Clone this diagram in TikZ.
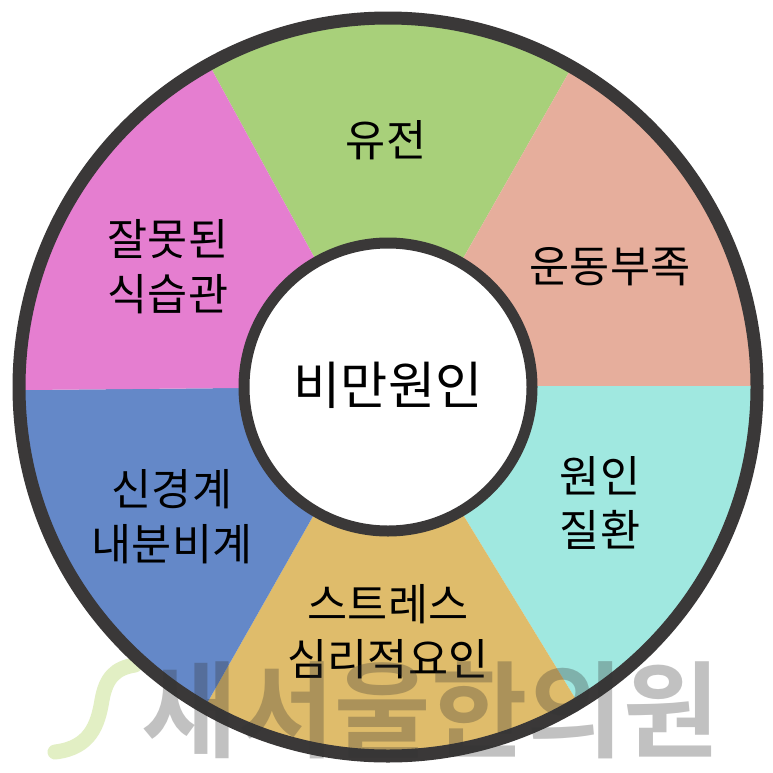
\documentclass[tikz,border=0pt]{standalone}
\usepackage{fontspec}
\setmainfont{Noto Sans CJK KR}
\newfontfamily\markfont{Noto Sans CJK KR Bold}
\usetikzlibrary{calc}
\definecolor{ringgray}{HTML}{3A3838}
\definecolor{segpink}{HTML}{E57ED0}
\definecolor{seggreen}{HTML}{A8D07A}
\definecolor{segsalmon}{HTML}{E6AE9C}
\definecolor{segcyan}{HTML}{A0E8E0}
\definecolor{segorange}{HTML}{DFBC6B}
\definecolor{segblue}{HTML}{6488C8}
\definecolor{markgreen}{HTML}{E2EFC4}
\tikzset{
    seglabel/.style={align=center, font=\fontsize{12.4pt}{15.6pt}\selectfont, text=black},
    hublabel/.style={font=\fontsize{14.6pt}{16pt}\selectfont, text=black},
    marklabel/.style={font=\fontsize{29.8pt}{30pt}\markfont, text=black!80, text opacity=0.3}
}
\begin{document}
\begin{tikzpicture}[x=0.1mm, y=-0.1mm]
    \useasboundingbox (0,0) rectangle (773,773);
    \fill[white] (0,0) rectangle (773,773);

    % Segment corners
    \coordinate (hub) at (388,387);
    \coordinate (in1) at (313,255);  \coordinate (out1) at (212,70);
    \coordinate (in2) at (465,255);  \coordinate (out2) at (568,74);
    \coordinate (in3) at (537,386);  \coordinate (out3) at (750,386);
    \coordinate (in4) at (465,518);  \coordinate (out4) at (575,698);
    \coordinate (in5) at (312,518);  \coordinate (out5) at (210,698);
    \coordinate (in6) at (239,388);  \coordinate (out6) at (25,390);

    % Watermark curve
    \draw[markgreen, line width=1.5mm, line cap=round] (55,752) .. controls (90,748) and (98,725) .. (102,700) .. controls (106,678) and (115,668) .. (135,665);

    % Segments
    \begin{scope}
        \clip (hub) circle (369);
        \foreach \a/\b/\col in {1/2/seggreen, 2/3/segsalmon, 3/4/segcyan, 4/5/segorange, 5/6/segblue, 6/1/segpink} {
            \fill[\col] (in\a) -- ($(in\a)!2.2!(out\a)$) -- ($(in\b)!2.2!(out\b)$) -- (in\b) -- (hub) -- cycle;
        }
    \end{scope}

    % Rings
    \draw[ringgray, line width=1.3mm] (hub) circle (369);
    \draw[ringgray, line width=1.1mm, fill=white] (hub) circle (144);

    % Labels
    \node[hublabel] (hubtext) at (388,385) {비만원인};
    \node[seglabel] (gene) at (386,140) {유전};
    \node[seglabel] (exercise) at (610,267) {운동부족};
    \node[seglabel] (disease) at (600,503) {원인\\질환};
    \node[seglabel] (stress) at (388,632) {스트레스\\심리적요인};
    \node[seglabel] (endocrine) at (172,517) {신경계\\내분비계};
    \node[seglabel] (habit) at (168,267) {잘못된\\식습관};

    % Watermark
    \node[marklabel] (mark) at (431,710) {새서울한의원};
\end{tikzpicture}
\end{document}
